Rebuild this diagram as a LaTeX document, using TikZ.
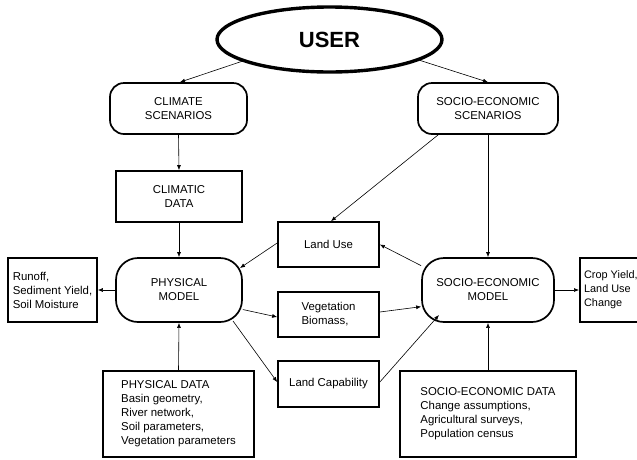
\documentclass[tikz,border=0pt]{standalone}
\usepackage{fontspec}
\setmainfont{Liberation Sans}
\usetikzlibrary{shapes.geometric,arrows.meta,calc}
\begin{document}
\begin{tikzpicture}[x=1pt,y=-1pt,
  box/.style={draw,line width=1.7pt,inner sep=0pt,align=center,font=\fontsize{11.4}{14}\selectfont},
  lbox/.style={box,align=left},
  rbox/.style={box,rounded corners=#1},
  conn/.style={line width=0.6pt,-{Latex[length=5pt,width=4pt]}}]
\useasboundingbox (0,0) rectangle (637,459);
% top
\node[draw,ellipse,line width=3.4pt,minimum width=225pt,minimum height=65pt,inner sep=0pt,
  font=\fontsize{22}{26}\selectfont\bfseries] (user) at (329.5,39.5) {USER};
\node[rbox=14pt,minimum width=137pt,minimum height=51pt] (cs) at (178.5,108.5) {CLIMATE\\SCENARIOS};
\node[rbox=14pt,minimum width=140pt,minimum height=51pt] (ses) at (488,108.5) {SOCIO-ECONOMIC\\SCENARIOS};
\node[box,minimum width=126pt,minimum height=51pt] (cd) at (179,196.5) {CLIMATIC\\DATA};
% models
\node[rbox=22pt,minimum width=126pt,minimum height=64pt] (pm) at (179,290) {PHYSICAL\\MODEL};
\node[rbox=22pt,minimum width=132pt,minimum height=64pt] (sem) at (488,290) {SOCIO-ECONOMIC\\MODEL};
\node[lbox,minimum width=89pt,minimum height=64pt] (ro) at (52.5,290) {Runoff,\\Sediment Yield,\\Soil Moisture};
\node[lbox,minimum width=62pt,minimum height=64pt,anchor=west,font=\fontsize{10.9}{14}\selectfont] (cy) at (579,290) {Crop Yield,\\Land Use\\Change};
% middle column
\node[box,minimum width=101pt,minimum height=45pt] (lu) at (328.5,244.5) {Land Use};
\node[lbox,minimum width=101pt,minimum height=45pt] (veg) at (328.5,314.5) {Vegetation\\Biomass,};
\node[box,minimum width=101pt,minimum height=46pt] (lc) at (328.5,384) {Land Capability};
% data
\node[lbox,minimum width=151pt,minimum height=86pt] (pd) at (178.5,414) {PHYSICAL DATA\\Basin geometry,\\River network,\\Soil parameters,\\Vegetation parameters};
\node[lbox,minimum width=176pt,minimum height=86pt] (sed) at (488,414) {SOCIO-ECONOMIC DATA\\Change assumptions,\\Agricultural surveys,\\Population census};
% connectors
\draw[conn] (user.194.7) -- ([xshift=1.5pt]cs.north);
\draw[conn] (user.347.6) -- (ses.north);
\draw[conn] (cs.south) -- (cd.north);
\draw[conn] (cd.south) -- (pm.north);
\draw[conn] (pd.north) -- (pm.south);
\draw[conn] (sed.north) -- (sem.south);
\draw[conn] (ses.south) -- (sem.north);
\draw[conn] ([xshift=21pt]ses.south west) -- ([xshift=2.5pt]lu.north);
\draw[conn] ([yshift=1.5pt]lu.west) -- ($(pm)+(61,-22)$);
\draw[conn] (sem.160) -- (lu.east);
\draw[conn] (pm.343) -- ([yshift=-2.5pt]veg.west);
\draw[conn] ($(pm)+(54,31)$) -- ([yshift=2pt]lc.west);
\draw[conn] ([yshift=2.5pt]veg.east) -- (sem.194.4);
\draw[conn] ([yshift=2pt]lc.east) -- ($(sem)+(-49,25)$);
\draw[conn] (sem.east) -- (cy.west);
\draw[conn] (pm.west) -- (ro.east);
\end{tikzpicture}
\end{document}
